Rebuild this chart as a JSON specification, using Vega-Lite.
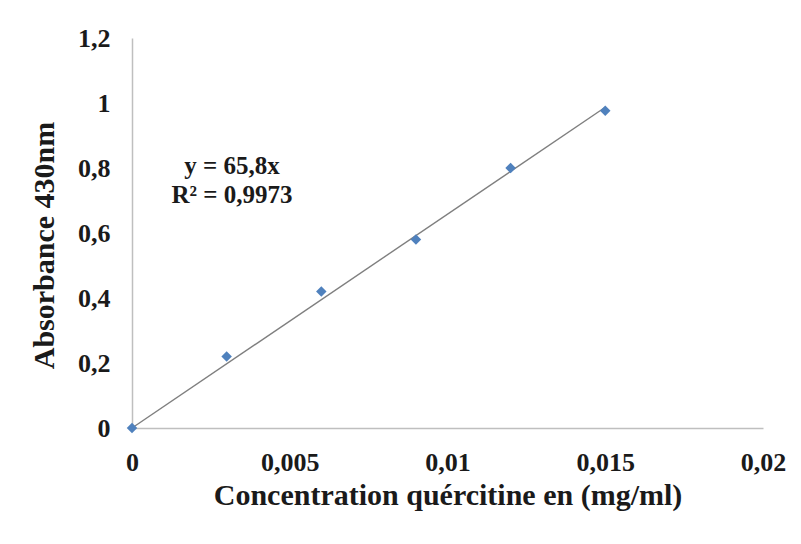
{
  "$schema": "https://vega.github.io/schema/vega-lite/v6.json",
  "width": 631,
  "height": 390,
  "autosize": {"type": "none"},
  "padding": {"left": 132, "top": 38, "right": 38, "bottom": 116},
  "background": "white",
  "config": {
    "view": {"stroke": null},
    "font": "Liberation Serif",
    "axis": {
      "domainColor": "#bfbfbf",
      "domainWidth": 1.5,
      "ticks": false,
      "grid": false,
      "labelFlush": false,
      "labelFont": "Liberation Serif",
      "labelFontWeight": "bold",
      "labelFontSize": 26,
      "labelColor": "#1a1a1a",
      "titleFont": "Liberation Serif",
      "titleFontWeight": "bold",
      "titleFontSize": 30,
      "titleColor": "#1a1a1a"
    }
  },
  "datasets": {
    "points": [
      {"conc": 0, "abs": 0},
      {"conc": 0.003, "abs": 0.22},
      {"conc": 0.006, "abs": 0.42},
      {"conc": 0.009, "abs": 0.58},
      {"conc": 0.012, "abs": 0.80},
      {"conc": 0.015, "abs": 0.976}
    ],
    "trend": [
      {"conc": 0, "abs": 0},
      {"conc": 0.015, "abs": 0.987}
    ],
    "eq": [
      {"conc": 0.00317, "abs": 0.806, "label": "y = 65,8x"},
      {"conc": 0.00317, "abs": 0.717, "label": "R² = 0,9973"}
    ]
  },
  "layer": [
    {
      "data": {"name": "trend"},
      "mark": {"type": "line", "color": "#7f7f7f", "strokeWidth": 1.4},
      "encoding": {
        "x": {
          "field": "conc",
          "type": "quantitative",
          "scale": {"domain": [0, 0.02], "nice": false, "zero": true},
          "axis": {
            "values": [0, 0.005, 0.01, 0.015, 0.02],
            "labelExpr": "replace(toString(datum.value), '.', ',')",
            "labelPadding": 21,
            "title": "Concentration quércitine en (mg/ml)",
            "titlePadding": 5
          }
        },
        "y": {
          "field": "abs",
          "type": "quantitative",
          "scale": {"domain": [0, 1.2], "nice": false},
          "axis": {
            "values": [0, 0.2, 0.4, 0.6, 0.8, 1, 1.2],
            "labelExpr": "replace(toString(datum.value), '.', ',')",
            "labelPadding": 22,
            "title": "Absorbance 430nm",
            "titlePadding": 18,
            "titleY": 207
          }
        }
      }
    },
    {
      "data": {"name": "points"},
      "mark": {"type": "point", "shape": "diamond", "filled": true, "size": 110, "color": "#4f81bd", "opacity": 1},
      "encoding": {
        "x": {"field": "conc", "type": "quantitative"},
        "y": {"field": "abs", "type": "quantitative"}
      }
    },
    {
      "data": {"name": "eq"},
      "mark": {"type": "text", "fontSize": 25, "fontWeight": "bold", "font": "Liberation Serif", "color": "#1a1a1a", "align": "center", "baseline": "middle"},
      "encoding": {
        "x": {"field": "conc", "type": "quantitative"},
        "y": {"field": "abs", "type": "quantitative"},
        "text": {"field": "label"}
      }
    }
  ]
}
